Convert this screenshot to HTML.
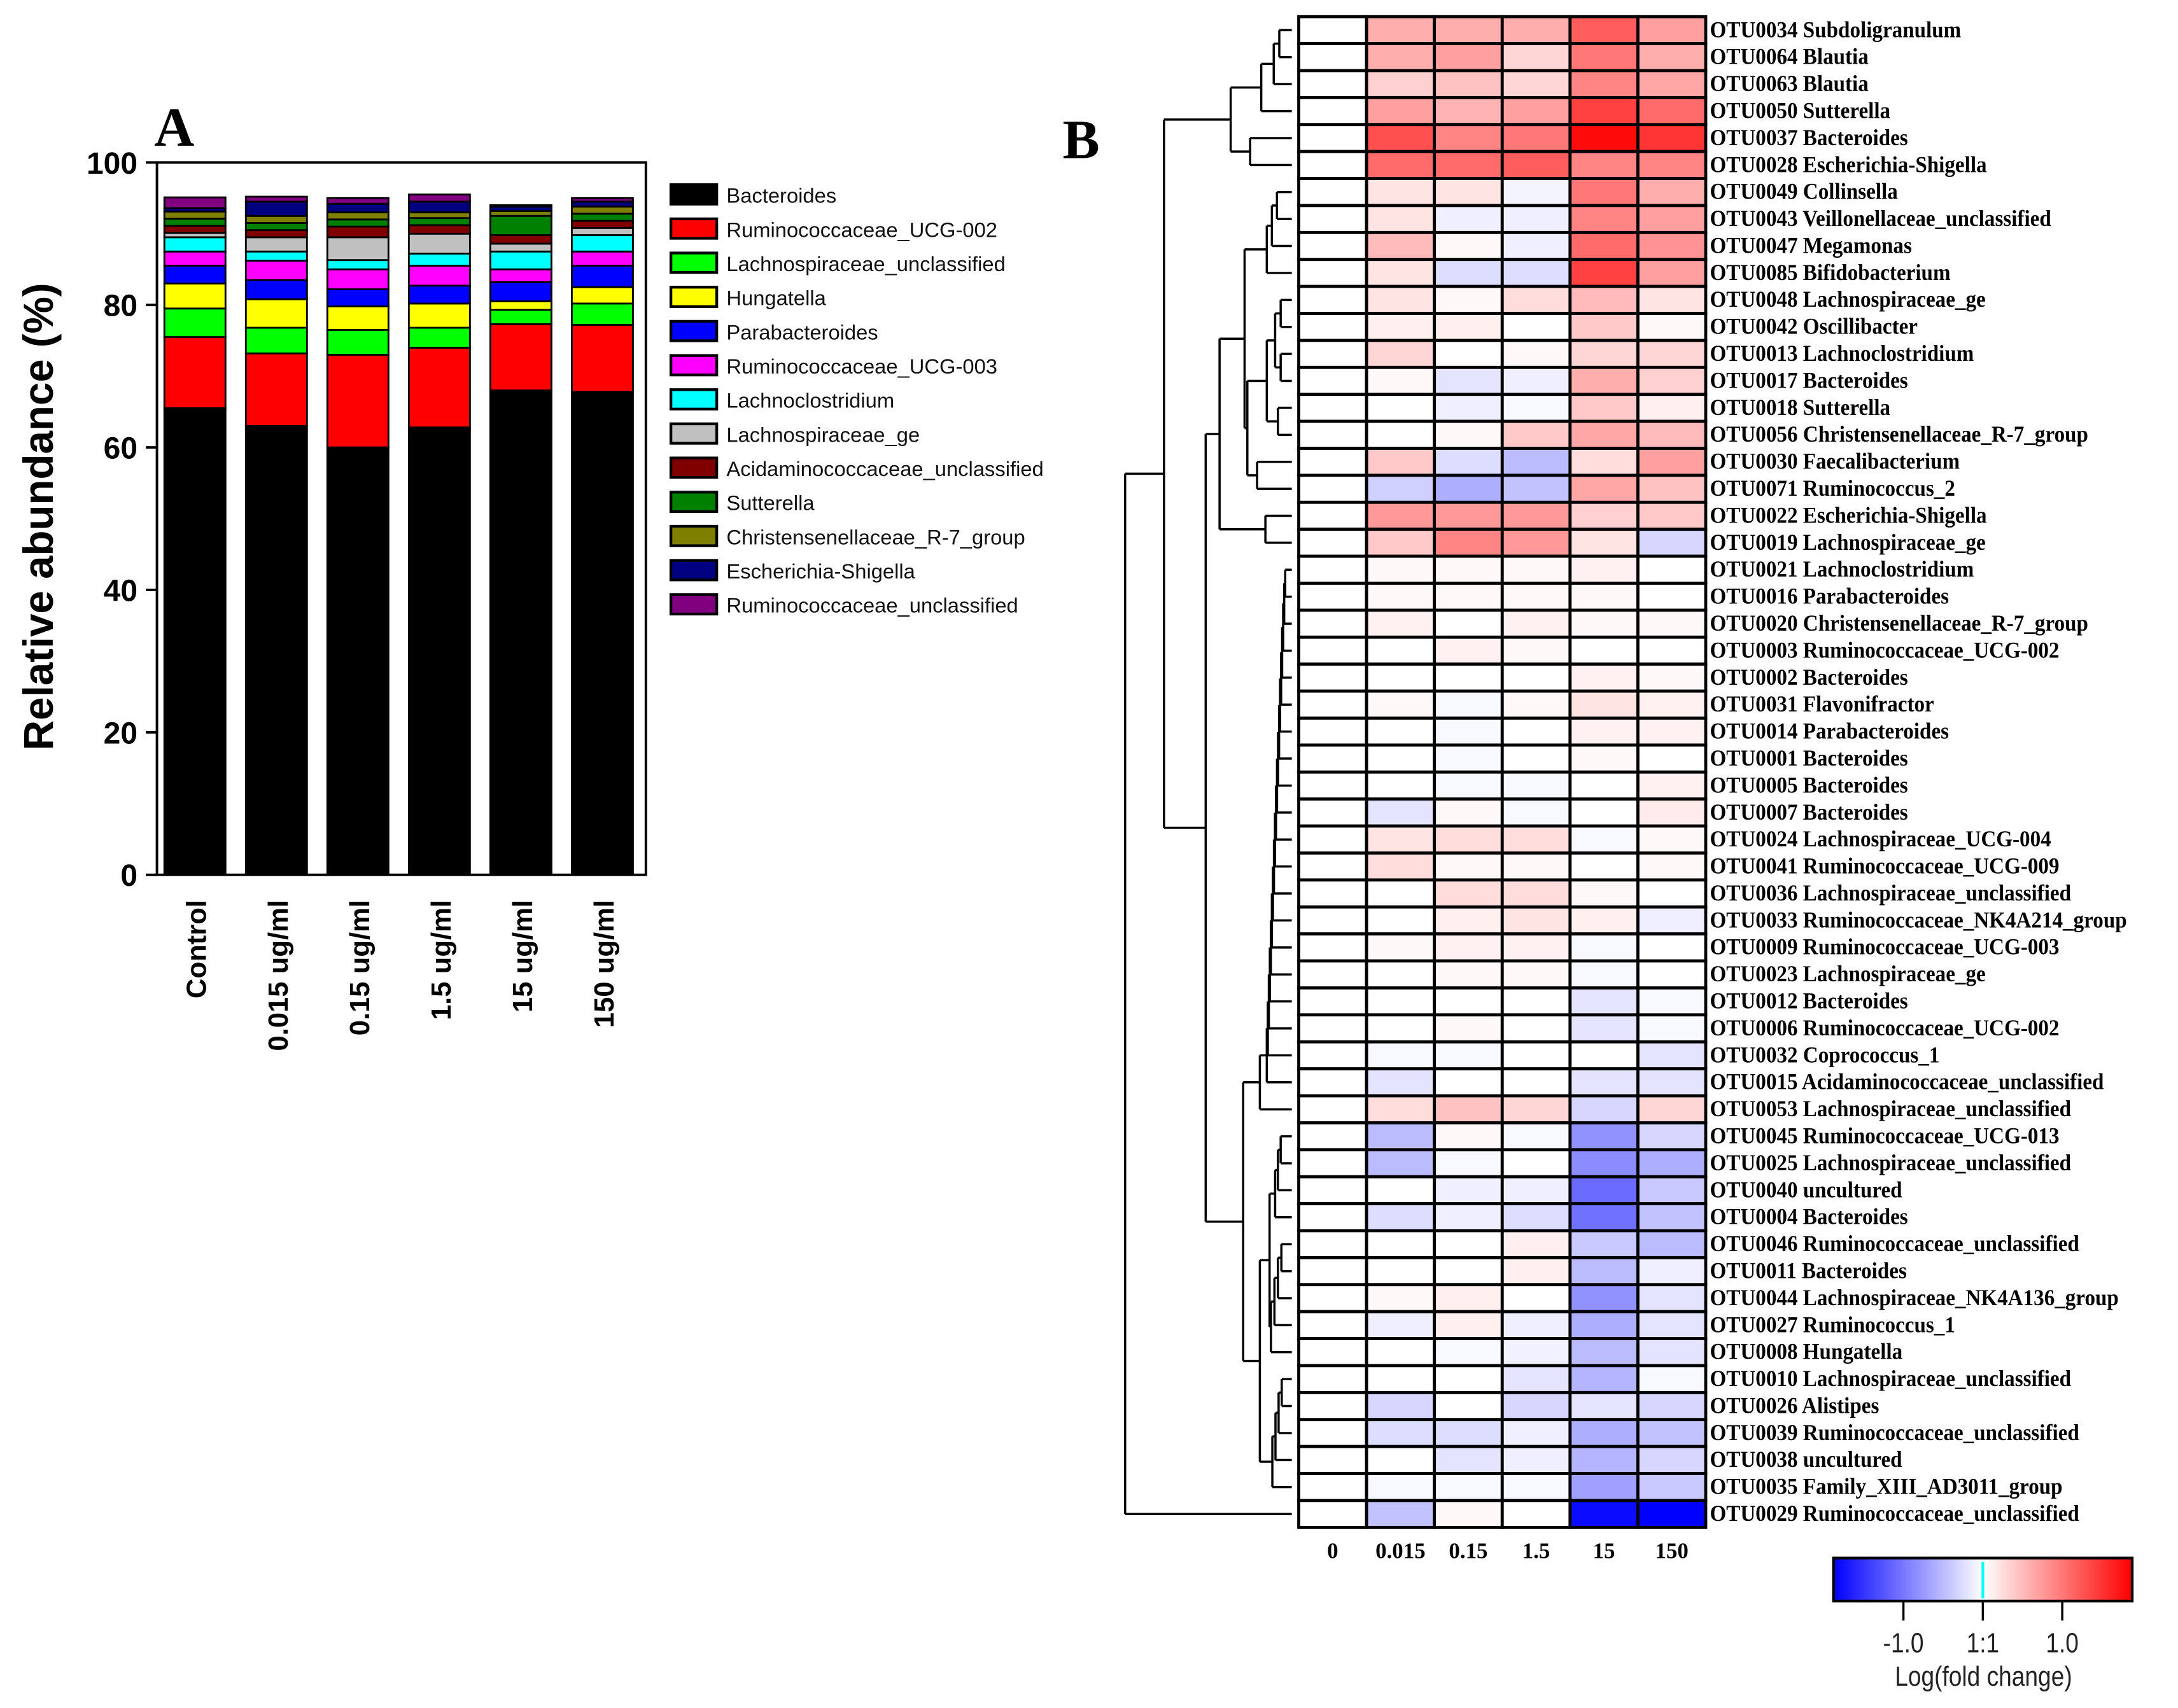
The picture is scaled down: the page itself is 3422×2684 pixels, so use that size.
<!DOCTYPE html>
<html><head><meta charset="utf-8"><style>
html,body{margin:0;padding:0;background:#fff}
svg{display:block}
</style></head><body>
<svg id="fig" xmlns="http://www.w3.org/2000/svg" width="3422" height="2684" viewBox="0 0 1568 1230" preserveAspectRatio="none">
<rect x="0" y="0" width="1568" height="1230" fill="#fff"/>
<text x="111" y="105" font-family="Liberation Serif, serif" font-weight="bold" font-size="40">A</text>
<text x="765" y="114" font-family="Liberation Serif, serif" font-weight="bold" font-size="40">B</text>
<text transform="translate(38,372) rotate(-90)" text-anchor="middle" font-family="Liberation Sans, sans-serif" font-weight="bold" font-size="30">Relative abundance (%)</text>
<g id="barchart"></g>
<g id="legend"></g>
<g id="dendro"></g>
<g id="heat"></g>
<g id="cbar"></g>
</svg>
<script>
const NS="http://www.w3.org/2000/svg";
// ---------- Panel A data ----------
const barCategories=["Control","0.015 ug/ml","0.15 ug/ml","1.5 ug/ml","15 ug/ml","150 ug/ml"];
const seriesNames=["Bacteroides","Ruminococcaceae_UCG-002","Lachnospiraceae_unclassified","Hungatella","Parabacteroides","Ruminococcaceae_UCG-003","Lachnoclostridium","Lachnospiraceae_ge","Acidaminococcaceae_unclassified","Sutterella","Christensenellaceae_R-7_group","Escherichia-Shigella","Ruminococcaceae_unclassified"];
const seriesColors=["#000000","#ff0000","#00ff00","#ffff00","#0000ff","#ff00ff","#00ffff","#c0c0c0","#800000","#008000","#808000","#000080","#800080"];
const sBacteroides=[65.5,63.0,60.0,62.8,68.0,67.8];
const sRum002=[10.0,10.2,13.0,11.2,9.3,9.4];
const sLachUncl=[4.0,3.6,3.5,2.8,2.0,3.0];
const sHungatella=[3.5,4.0,3.3,3.4,1.2,2.3];
const sParabact=[2.5,2.7,2.4,2.5,2.7,3.0];
const sRum003=[2.0,2.7,2.8,2.8,1.8,2.0];
const sLachnoclos=[2.0,1.3,1.3,1.7,2.5,2.3];
const sLachGe=[0.6,2.0,3.2,2.8,1.1,1.0];
const sAcid=[1.0,1.0,1.5,1.2,1.2,1.0];
const sSutterella=[1.0,1.0,1.0,1.0,2.7,1.0];
const sChrist=[1.0,1.0,1.0,0.8,0.7,1.0];
const sEsch=[0.5,2.0,1.2,1.5,0.6,0.7];
const sRumUncl=[1.5,0.7,0.8,1.0,0.2,0.5];
const seriesValues=[sBacteroides,sRum002,sLachUncl,sHungatella,sParabact,sRum003,sLachnoclos,sLachGe,sAcid,sSutterella,sChrist,sEsch,sRumUncl];
const yTicks=[0,20,40,60,80,100];

// ---------- Panel B data ----------
const heatColumns=["0","0.015","0.15","1.5","15","150"];
const otuLabels=["OTU0034 Subdoligranulum","OTU0064 Blautia","OTU0063 Blautia","OTU0050 Sutterella","OTU0037 Bacteroides","OTU0028 Escherichia-Shigella","OTU0049 Collinsella","OTU0043 Veillonellaceae_unclassified","OTU0047 Megamonas","OTU0085 Bifidobacterium","OTU0048 Lachnospiraceae_ge","OTU0042 Oscillibacter","OTU0013 Lachnoclostridium","OTU0017 Bacteroides","OTU0018 Sutterella","OTU0056 Christensenellaceae_R-7_group","OTU0030 Faecalibacterium","OTU0071 Ruminococcus_2","OTU0022 Escherichia-Shigella","OTU0019 Lachnospiraceae_ge","OTU0021 Lachnoclostridium","OTU0016 Parabacteroides","OTU0020 Christensenellaceae_R-7_group","OTU0003 Ruminococcaceae_UCG-002","OTU0002 Bacteroides","OTU0031 Flavonifractor","OTU0014 Parabacteroides","OTU0001 Bacteroides","OTU0005 Bacteroides","OTU0007 Bacteroides","OTU0024 Lachnospiraceae_UCG-004","OTU0041 Ruminococcaceae_UCG-009","OTU0036 Lachnospiraceae_unclassified","OTU0033 Ruminococcaceae_NK4A214_group","OTU0009 Ruminococcaceae_UCG-003","OTU0023 Lachnospiraceae_ge","OTU0012 Bacteroides","OTU0006 Ruminococcaceae_UCG-002","OTU0032 Coprococcus_1","OTU0015 Acidaminococcaceae_unclassified","OTU0053 Lachnospiraceae_unclassified","OTU0045 Ruminococcaceae_UCG-013","OTU0025 Lachnospiraceae_unclassified","OTU0040 uncultured","OTU0004 Bacteroides","OTU0046 Ruminococcaceae_unclassified","OTU0011 Bacteroides","OTU0044 Lachnospiraceae_NK4A136_group","OTU0027 Ruminococcus_1","OTU0008 Hungatella","OTU0010 Lachnospiraceae_unclassified","OTU0026 Alistipes","OTU0039 Ruminococcaceae_unclassified","OTU0038 uncultured","OTU0035 Family_XIII_AD3011_group","OTU0029 Ruminococcaceae_unclassified"];
const fc0=otuLabels.map(()=>0);
const fc0015=[0.6,0.6,0.35,0.7,1.3,1.1,0.2,0.2,0.5,0.2,0.2,0.12,0.3,0.05,0,0,0.4,-0.35,0.75,0.4,0.05,0.05,0.1,0,0,0.05,0,0,0,-0.2,0.2,0.25,0,0,0.05,0,0,0,-0.05,-0.2,0.25,-0.5,-0.5,0,-0.25,0,0,0.05,-0.12,0,0,-0.3,-0.25,0,-0.05,-0.45];
const fc015=[0.6,0.7,0.45,0.55,0.9,1.1,0.2,-0.12,0.05,-0.25,0.05,0.12,0,-0.2,-0.12,0.05,-0.25,-0.6,0.75,0.9,0.05,0.05,0,0.1,0,-0.05,-0.05,-0.05,-0.05,0.05,0.25,0.05,0.25,0.12,0.1,0.05,0,0.05,-0.05,0,0.45,0.05,-0.05,-0.12,-0.12,0,0,0.12,0.12,-0.05,0,0,-0.25,-0.2,-0.05,0.05];
const fc15=[0.6,0.3,0.3,0.7,1.0,1.2,-0.08,-0.12,-0.12,-0.25,0.25,0,0.05,-0.12,-0.05,0.4,-0.5,-0.45,0.75,0.75,0.05,0.05,0.1,0.05,0,0.05,0,0,-0.05,-0.05,0.25,0.05,0.25,0.2,0.1,0.05,0,0,0,0,0.3,-0.05,0,-0.12,-0.25,0.12,0.12,0,-0.12,-0.1,-0.2,-0.3,-0.12,-0.12,-0.05,0];
const fc150v=[1.2,1.0,0.9,1.4,1.8,0.9,1.0,0.9,1.1,1.4,0.5,0.4,0.3,0.6,0.4,0.65,0.25,0.65,0.35,0.2,0.1,0.05,0.05,0,0.1,0.2,0.1,0.05,0,0,-0.05,0,0.05,0.12,-0.05,-0.05,-0.2,-0.2,0,-0.2,-0.3,-0.8,-0.85,-1.1,-1.05,-0.4,-0.5,-0.8,-0.6,-0.5,-0.55,-0.2,-0.6,-0.55,-0.7,-1.8];
const fc150=[0.7,0.6,0.65,1.1,1.5,0.9,0.6,0.7,0.8,0.7,0.2,0.05,0.3,0.35,0.12,0.5,0.7,0.45,0.4,-0.3,0,0,0.05,0,0.05,0.1,0.1,0,0.1,0.15,0.05,0.05,0,-0.12,0,0,-0.05,-0.05,-0.2,-0.2,0.3,-0.3,-0.6,-0.4,-0.45,-0.5,-0.12,-0.2,-0.2,-0.2,-0.05,-0.3,-0.45,-0.3,-0.4,-2.0];
const heatValues=[fc0,fc0015,fc015,fc15,fc150v,fc150];
const scaleTicks=["-1.0","1:1","1.0"];
const scaleTickValues=[-1,0,1];
const scaleMax=1.88;

function el(tag,attrs,parent){const e=document.createElementNS(NS,tag);for(const k in attrs)e.setAttribute(k,attrs[k]);parent.appendChild(e);return e;}

// ---------- draw Panel A ----------
const A=document.getElementById('barchart');
const plotL=113,plotR=465,plotT=117,plotB=630;
const yScale=v=>plotB-(v/100)*(plotB-plotT);
const xBand=i=>plotL+(plotR-plotL)*(i+0.5)/barCategories.length-2;
const barW=44;
barCategories.forEach((c,i)=>{
  let acc=0;
  seriesValues.forEach((s,k)=>{
    const y0=yScale(acc),y1=yScale(acc+s[i]);
    const r=el('rect',{x:xBand(i)-barW/2,y:y1,width:barW,height:y0-y1,fill:seriesColors[k],stroke:'#000','stroke-width':1.3},A);
    
    
    acc+=s[i];
  });
  const t=el('text',{transform:`translate(${xBand(i)+8},648) rotate(-90)`,'text-anchor':'end','font-family':'Liberation Sans, sans-serif','font-weight':'bold','font-size':20},A);
  t.textContent=c;
  
  
});
const frame=el('rect',{x:plotL,y:plotT,width:plotR-plotL,height:plotB-plotT,fill:'none',stroke:'#000','stroke-width':1.8},A);


yTicks.forEach(v=>{
  const y=yScale(v);
  el('line',{x1:plotL-8,x2:plotL,y1:y,y2:y,stroke:'#000','stroke-width':1.8},A);
  const t=el('text',{x:plotL-14,y:y+8,'text-anchor':'end','font-family':'Liberation Sans, sans-serif','font-weight':'bold','font-size':22},A);
  t.textContent=v;
  
  
});
const L=document.getElementById('legend');
seriesNames.forEach((n,k)=>{
  const y=133+k*24.6;
  const r=el('rect',{x:483,y:y,width:33,height:14,fill:seriesColors[k],stroke:'#000','stroke-width':2},L);
  
  
  const t=el('text',{x:523,y:y+13,'font-family':'Liberation Sans, sans-serif','font-size':15,fill:'#111'},L);
  t.textContent=n;
  
  
});

// ---------- draw Panel B ----------
const H=document.getElementById('heat');
const hL=935,hR=1228,hT=12,hB=1100;
const nR=otuLabels.length;
const rowH=(hB-hT)/nR, colW=(hR-hL)/heatColumns.length;
const rowY=r=>hT+r*rowH;
const colX=c=>hL+c*colW;
function color(v){
  const t=Math.min(1,Math.abs(v)/scaleMax);
  const g=Math.round(255*(1-t));
  return v>=0?`rgb(255,${g},${g})`:`rgb(${g},${g},255)`;
}
heatValues.forEach((col,c)=>{
  col.forEach((v,r)=>{
    const rc=el('rect',{x:colX(c),y:rowY(r),width:colW,height:rowH,fill:color(v),stroke:'#000','stroke-width':2.2},H);
    
    
  });
});
otuLabels.forEach((n,r)=>{
  const t=el('text',{x:1231,y:rowY(r)+rowH/2+5,'font-family':'Liberation Serif, serif','font-weight':'bold','font-size':16.5,transform:`translate(${1231*0.08},0) scale(0.92,1)`},H);
  t.textContent=n;
  
  
});
heatColumns.forEach((c,i)=>{
  const t=el('text',{x:colX(i)+colW/2,y:1122,'text-anchor':'middle','font-family':'Liberation Serif, serif','font-weight':'bold','font-size':16},H);
  t.textContent=c;
  
  
});

// dendrogram
const D=document.getElementById('dendro');
function leafY(r){return rowY(r)+rowH/2;}
function chain(lo,hi,xa,xb){ // ladder from lo..hi
  let node=lo, n=hi-lo;
  for(let i=lo+1;i<=hi;i++){const x=xb-(xb-xa)*(i-lo)/n; node={x:x,c:[node,i]};}
  return node;
}
const tree={x:810,c:[
  {x:838,c:[
    {x:886,c:[{x:908,c:[{x:917,c:[{x:921,c:[0,1]},2]},3]},{x:900,c:[4,5]}]},
    {x:868,c:[
      {x:878,c:[
        {x:896,c:[chain(6,9,912,923),{x:898,c:[{x:912,c:[{x:918,c:[{x:922,c:[10,11]},{x:922,c:[12,13]}]},{x:920,c:[14,15]}]},{x:905,c:[16,17]}]}]},
        {x:911,c:[18,19]}]},
      {x:895,c:[
        {x:907,c:[chain(20,39,912,926),40]},
        {x:907,c:[{x:914,c:[chain(41,44,918,924),chain(45,49,915,925)]},chain(50,54,916,925)]}]}]}]},
  55]};
function drawNode(n){
  if(typeof n==='number') return {x:930,y:leafY(n)};
  const ch=n.c.map(drawNode);
  const ys=ch.map(p=>p.y);
  el('line',{x1:n.x,x2:n.x,y1:Math.min(...ys),y2:Math.max(...ys),stroke:'#000','stroke-width':1.6},D);
  ch.forEach(p=>el('line',{x1:n.x,x2:p.x,y1:p.y,y2:p.y,stroke:'#000','stroke-width':1.6},D));
  return {x:n.x,y:(Math.min(...ys)+Math.max(...ys))/2};
}
drawNode(tree);

// color scale
const C=document.getElementById('cbar');
const cbL=1320,cbR=1535,cbT=1122,cbB=1153,cbMid=(cbL+cbR)/2;
const defs=el('defs',{},C);
const lg=el('linearGradient',{id:'grad',x1:0,x2:1,y1:0,y2:0},defs);
[[0,'#0000ff'],[0.5,'#ffffff'],[1,'#ff0000']].forEach(s=>el('stop',{offset:s[0],'stop-color':s[1]},lg));
const cb=el('rect',{x:cbL,y:cbT,width:cbR-cbL,height:cbB-cbT,fill:'url(#grad)',stroke:'#000','stroke-width':2},C);


el('line',{x1:cbMid,x2:cbMid,y1:cbT+3,y2:cbB-2,stroke:'#00ffff','stroke-width':2},C);
const sx=v=>cbMid+v/scaleMax*(cbR-cbMid);
scaleTickValues.forEach((v,i)=>{
  el('line',{x1:sx(v),x2:sx(v),y1:cbB,y2:cbB+14,stroke:'#000','stroke-width':1.6},C);
  const t=el('text',{x:sx(v),y:1190,'text-anchor':'middle','font-family':'Liberation Sans, sans-serif','font-size':20,fill:'#222',transform:`translate(${sx(v)*0.15},0) scale(0.85,1)`},C);
  t.textContent=scaleTicks[i];
  
  
});
const st=el('text',{x:1428,y:1214,'text-anchor':'middle','font-family':'Liberation Sans, sans-serif','font-size':20,fill:'#222',transform:`translate(${1428*0.15},0) scale(0.85,1)`},C);
st.textContent='Log(fold change)';


</script>
</body></html>
